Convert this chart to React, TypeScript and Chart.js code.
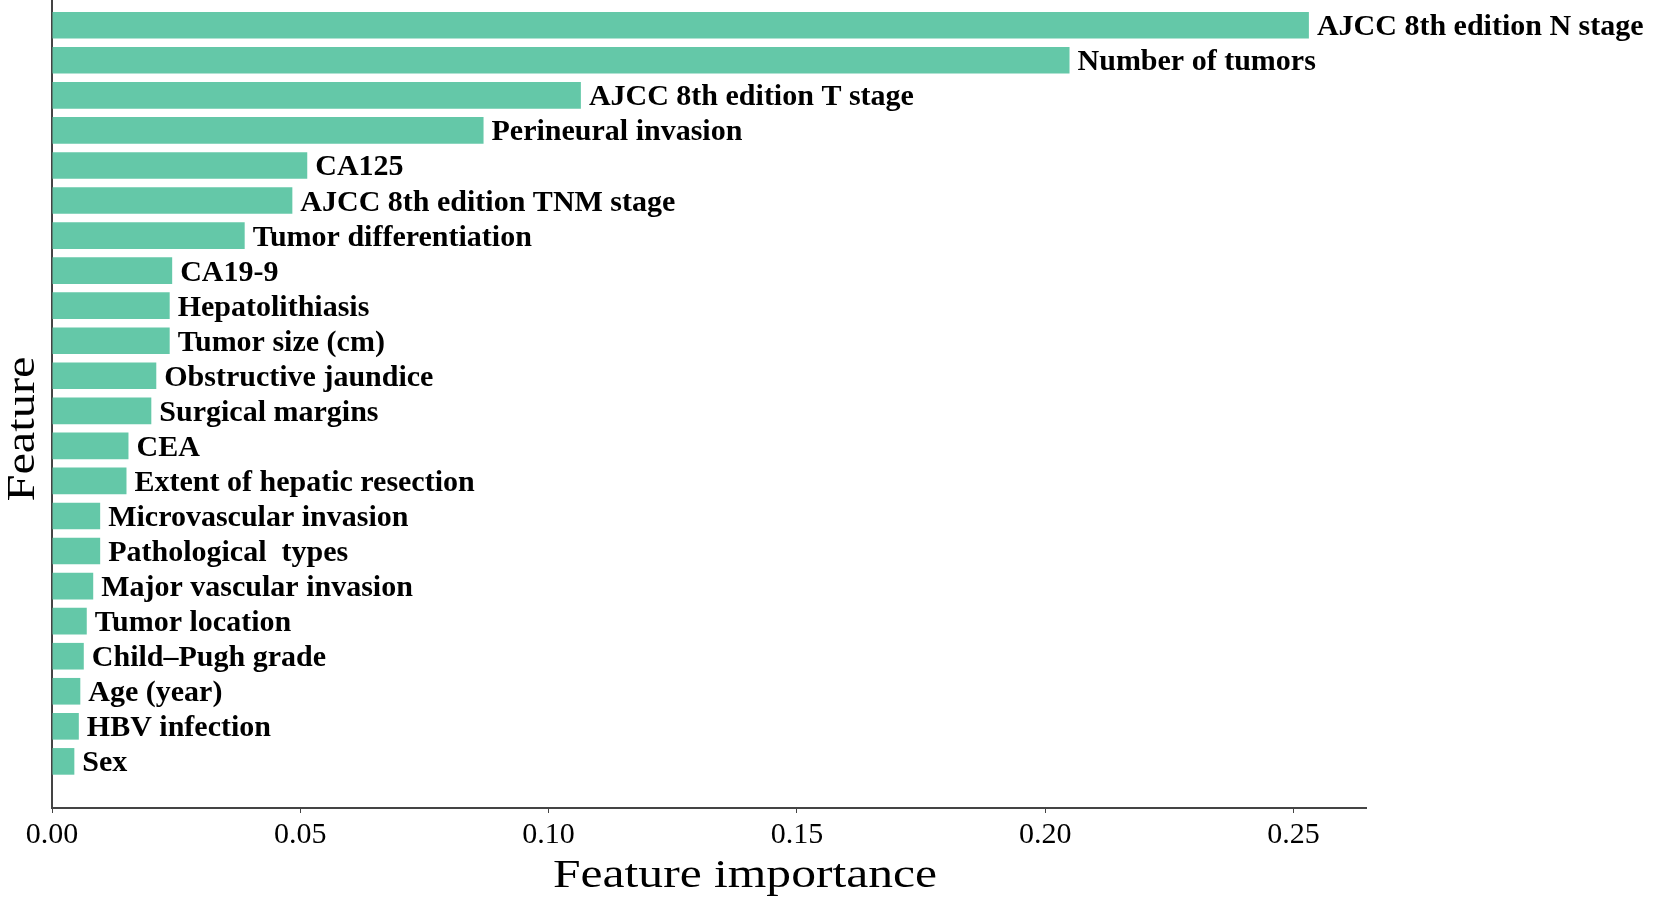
import React, { useEffect, useRef } from "react";
import { Chart, registerables } from "chart.js";

Chart.register(...registerables);

const features: string[] = [
  "AJCC 8th edition N stage",
  "Number of tumors",
  "AJCC 8th edition T stage",
  "Perineural invasion",
  "CA125",
  "AJCC 8th edition TNM stage",
  "Tumor differentiation",
  "CA19-9",
  "Hepatolithiasis",
  "Tumor size (cm)",
  "Obstructive jaundice",
  "Surgical margins",
  "CEA",
  "Extent of hepatic resection",
  "Microvascular invasion",
  "Pathological  types",
  "Major vascular invasion",
  "Tumor location",
  "Child–Pugh grade",
  "Age (year)",
  "HBV infection",
  "Sex",
];

const importance: number[] = [
  0.2531, 0.2049, 0.1065, 0.0869, 0.0514, 0.0484, 0.0388, 0.0242, 0.0237,
  0.0237, 0.021, 0.02, 0.0154, 0.015, 0.0097, 0.0097, 0.0083, 0.007, 0.0064,
  0.0057, 0.0054, 0.0045,
];

const xTicks: number[] = [0, 0.05, 0.1, 0.15, 0.2, 0.25];

const xTitle = "Feature importance";
const yTitle = "Feature";

const SERIF = '"Liberation Serif", "Times New Roman", serif';
const BAR_COLOR = "#64c8a8";
const AXIS_COLOR = "#444444";

const barLabelPlugin = {
  id: "barLabels",
  afterDatasetsDraw(chart: any) {
    const ctx = chart.ctx;
    const meta = chart.getDatasetMeta(0);
    ctx.save();
    ctx.font = `bold 30px ${SERIF}`;
    ctx.fillStyle = "#000";
    ctx.textAlign = "left";
    ctx.textBaseline = "alphabetic";
    meta.data.forEach((el: any, i: number) => {
      ctx.fillText(features[i], el.x + 8, el.y + 10);
    });
    ctx.restore();
  },
};

const axisTitlePlugin = {
  id: "axisTitles",
  afterDraw(chart: any) {
    const ctx = chart.ctx;
    ctx.save();
    ctx.fillStyle = "#000";
    ctx.font = `40px ${SERIF}`;
    ctx.textAlign = "center";
    ctx.textBaseline = "alphabetic";
    const wx = ctx.measureText(xTitle).width;
    ctx.save();
    ctx.translate(745, 887);
    ctx.scale(384 / wx, 1);
    ctx.fillText(xTitle, 0, 0);
    ctx.restore();
    const wy = ctx.measureText(yTitle).width;
    ctx.save();
    ctx.translate(34, 429);
    ctx.rotate(-Math.PI / 2);
    ctx.scale(145 / wy, 1);
    ctx.fillText(yTitle, 0, 0);
    ctx.restore();
    ctx.restore();
  },
};

export default function App() {
  const canvasRef = useRef<HTMLCanvasElement | null>(null);

  useEffect(() => {
    document.body.style.margin = "0";
    const canvas = canvasRef.current;
    if (!canvas) return;
    const chart = new Chart(canvas, {
      type: "bar",
      data: {
        datasets: [
          {
            data: importance.map((v, i) => ({ x: v, y: i })),
            backgroundColor: BAR_COLOR,
            borderWidth: 0,
            categoryPercentage: 1,
            barPercentage: 0.76,
          },
        ],
      },
      options: {
        indexAxis: "y",
        animation: false,
        responsive: false,
        devicePixelRatio: 1,
        events: [],
        layout: { padding: { left: 0, right: 288, top: 0, bottom: 0 } },
        plugins: {
          legend: { display: false },
          tooltip: { enabled: false },
          title: { display: false },
        },
        scales: {
          y: {
            type: "linear",
            position: "left",
            reverse: true,
            offset: false,
            min: -0.72,
            max: 22.33,
            afterBuildTicks: (s: any) => {
              s.ticks = features.map((_, i) => ({ value: i }));
            },
            ticks: { display: false },
            grid: { display: false, offset: false },
            border: { display: true, color: AXIS_COLOR, width: 2 },
            afterFit: (s: any) => {
              s.width = 52;
            },
          },
          x: {
            type: "linear",
            position: "bottom",
            min: 0,
            max: 0.2646,
            afterBuildTicks: (s: any) => {
              s.ticks = xTicks.map((v) => ({ value: v }));
            },
            ticks: {
              includeBounds: false,
              color: "#000",
              font: { family: SERIF, size: 30 },
              padding: 4,
              maxRotation: 0,
              callback: (v: any) => Number(v).toFixed(2),
            },
            grid: {
              display: true,
              drawOnChartArea: false,
              drawTicks: true,
              tickLength: 5,
              color: AXIS_COLOR,
              lineWidth: 1,
            },
            border: { display: true, color: AXIS_COLOR, width: 2 },
            afterFit: (s: any) => {
              s.height = 94;
            },
          },
        },
      },
      plugins: [barLabelPlugin, axisTitlePlugin],
    } as any);
    return () => chart.destroy();
  }, []);

  return (
    <div style={{ width: 1654, height: 902, background: "#fff" }}>
      <canvas
        ref={canvasRef}
        width={1654}
        height={902}
        style={{ display: "block", width: 1654, height: 902 }}
      />
    </div>
  );
}
